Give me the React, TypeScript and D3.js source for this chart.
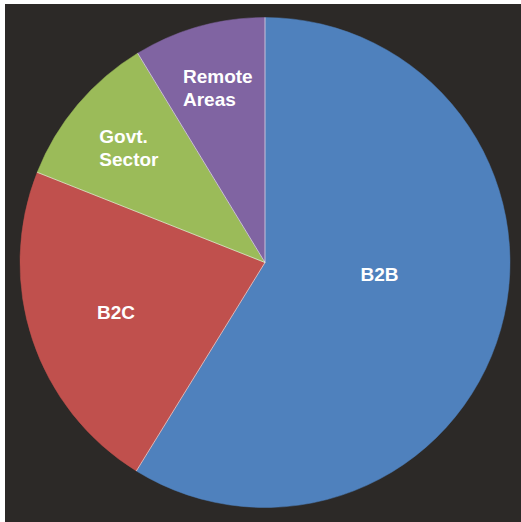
import { useEffect, useRef } from "react";
import * as d3 from "d3";

const categories = ["B2B", "B2C", "Govt.\nSector", "Remote\nAreas"];
const values = [58.8, 22.2, 10.3, 8.7];
const sliceColors = ["#4f81bd", "#c0504d", "#9bbb59", "#8064a2"];
// label distance from centre, as a share of the radius
const labelRadius = [0.47, 0.64, 0.725, 0.74];
const labelAngleShift = [-0.17, 0, 0, 0.01];

export default function App() {
  const svgRef = useRef<SVGSVGElement>(null);

  useEffect(() => {
    if (!svgRef.current) return;
    const width = 521;
    const height = 522;
    const cx = 265;
    const cy = 262.5;
    const r = 245;

    const svg = d3.select(svgRef.current);
    svg.selectAll("*").remove();
    svg.attr("width", width).attr("height", height);

    svg.append("rect").attr("width", width).attr("height", height).attr("fill", "#ffffff");
    svg
      .append("rect")
      .attr("x", 5)
      .attr("y", 4)
      .attr("width", width - 5)
      .attr("height", height - 4)
      .attr("fill", "#2c2927");

    const data = categories.map((c, i) => ({ label: c, value: values[i], i }));
    const pie = d3
      .pie<{ label: string; value: number; i: number }>()
      .value((d) => d.value)
      .sort(null);
    const arcs = pie(data);
    const arc = d3
      .arc<d3.PieArcDatum<{ label: string; value: number; i: number }>>()
      .innerRadius(0)
      .outerRadius(r);

    const g = svg.append("g").attr("transform", `translate(${cx},${cy})`);

    g.selectAll("path")
      .data(arcs)
      .join("path")
      .attr("d", arc)
      .attr("fill", (d) => sliceColors[d.data.i])
      .attr("stroke", (d) => sliceColors[d.data.i])
      .attr("stroke-width", 0.5);

    // thin white separators between slices only
    g.selectAll("line.sep")
      .data(arcs)
      .join("line")
      .attr("class", "sep")
      .attr("x1", 0)
      .attr("y1", 0)
      .attr("x2", (d) => Math.sin(d.startAngle) * r)
      .attr("y2", (d) => -Math.cos(d.startAngle) * r)
      .attr("stroke", "#ffffff")
      .attr("stroke-width", 0.7)
      .attr("stroke-opacity", 0.85);

    const fontSize = 19;
    const lineH = 23;
    arcs.forEach((a) => {
      const i = a.data.i;
      const mid = (a.startAngle + a.endAngle) / 2 + labelAngleShift[i];
      const lr = labelRadius[i] * r;
      const x = Math.sin(mid) * lr;
      const y = -Math.cos(mid) * lr;
      const lines = a.data.label.split("\n");
      const t = g
        .append("text")
        .attr("fill", "#ffffff")
        .attr("font-family", "Liberation Sans, Arial, sans-serif")
        .attr("font-weight", "bold")
        .attr("font-size", fontSize)
        .attr("text-anchor", "start");
      lines.forEach((ln, k) => {
        t.append("tspan")
          .attr("x", 0)
          .attr("y", (k - (lines.length - 1) / 2) * lineH + fontSize * 0.35)
          .text(ln);
      });
      const w = (t.node() as SVGTextElement).getBBox().width;
      t.attr("transform", `translate(${x - w / 2},${y})`);
    });
  }, []);

  return (
    <svg
      ref={svgRef}
      style={{ position: "absolute", left: 0, top: 0, display: "block" }}
    />
  );
}
